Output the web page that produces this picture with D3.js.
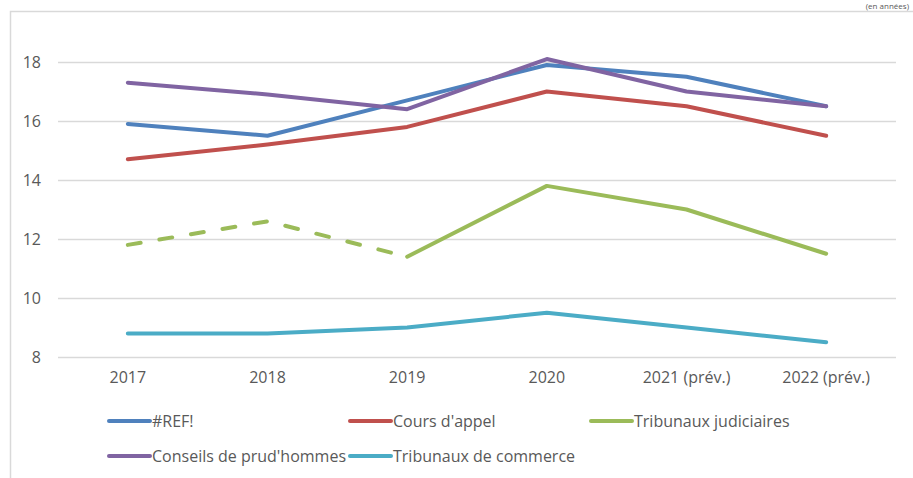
<!DOCTYPE html>
<html>
<head>
<meta charset="utf-8">
<script src="https://cdn.jsdelivr.net/npm/d3@7"></script>
<style>
  body { margin: 0; background: #fff; }
  svg text { font-family: "Open Sans", Lato, sans-serif; fill: #595959; }
</style>
</head>
<body>
<div id="d3"></div>
<script>
const years = ["2017", "2018", "2019", "2020", "2021 (prév.)", "2022 (prév.)"]
const yTicks = [8, 10, 12, 14, 16, 18]

const refValues = [15.9, 15.5, 16.7, 17.9, 17.5, 16.5]
const coursAppel = [14.7, 15.2, 15.8, 17.0, 16.5, 15.5]
const tribJudiciaires = [11.8, 12.6, 11.4, 13.8, 13.0, 11.5]
const prudhommes = [17.3, 16.9, 16.4, 18.1, 17.0, 16.5]
const tribCommerce = [8.8, 8.8, 9.0, 9.5, 9.0, 8.5]

const series = [
    {name: "#REF!", values: refValues, color: "#4F81BD"},
    {name: "Cours d'appel", values: coursAppel, color: "#C0504D"},
    {name: "Tribunaux judiciaires", values: tribJudiciaires, color: "#9BBB59", dashedUntil: 2},
    {name: "Conseils de prud'hommes", values: prudhommes, color: "#8064A2"},
    {name: "Tribunaux de commerce", values: tribCommerce, color: "#4BACC6"}
]

const W = 913, H = 478
const margin = {top: 62, left: 58, right: 15, bottom: 121}
const width = W - margin.left - margin.right
const height = H - margin.top - margin.bottom

const svg = d3.select("#d3").append("svg")
    .attr("width", W)
    .attr("height", H)

// chart frame (partly visible)
svg.append("path")
    .attr("d", "M10.5," + H + "V11.5H" + W)
    .attr("fill", "none")
    .attr("stroke", "#d9d9d9")
    .attr("stroke-width", 1.5)

svg.append("text")
    .attr("x", W - 4)
    .attr("y", 9)
    .attr("text-anchor", "end")
    .style("font-size", "8px")
    .text("(en années)")

const g = svg.append("g")
    .attr("transform", "translate(" + margin.left + "," + margin.top + ")")

const x = d3.scaleBand()
    .domain(years)
    .range([0, width - 2])
const y = d3.scaleLinear()
    .domain([8, 18])
    .range([height, 0])

// gridlines
g.selectAll(".grid")
    .data(yTicks)
    .enter()
    .append("line")
    .attr("x1", 0)
    .attr("x2", width - 2)
    .attr("y1", d => Math.round(y(d)) + 0.5)
    .attr("y2", d => Math.round(y(d)) + 0.5)
    .attr("stroke", "#d9d9d9")
    .attr("stroke-width", 1.3)

// y axis
const yAxis = g.append("g")
    .call(d3.axisLeft(y).tickValues(yTicks).tickSize(0).tickPadding(17))
yAxis.select(".domain").remove()
yAxis.selectAll("text")
    .style("font-size", "16px")
    .style("font-family", "'Open Sans', sans-serif")
    .attr("fill", "#595959")

// x axis
const xAxis = g.append("g")
    .attr("transform", "translate(0," + height + ")")
    .call(d3.axisBottom(x).tickSize(0).tickPadding(15))
xAxis.select(".domain").remove()
xAxis.selectAll("text")
    .style("font-size", "16px")
    .style("font-family", "'Open Sans', sans-serif")
    .attr("fill", "#595959")

const cx = (d, i) => x(years[i]) + x.bandwidth() / 2
const line = d3.line()
    .x(d => d.x)
    .y(d => d.y)

series.forEach(s => {
    const pts = s.values.map((v, i) => ({x: cx(v, i), y: y(v)}))
    const draw = (p, dashed) => g.append("path")
        .attr("d", line(p))
        .attr("fill", "none")
        .attr("stroke", s.color)
        .attr("stroke-width", 4)
        .attr("stroke-linecap", "round")
        .attr("stroke-linejoin", "round")
        .attr("stroke-dasharray", dashed ? "13,19" : null)
    if (s.dashedUntil) {
        draw(pts.slice(0, s.dashedUntil + 1), true)
        draw(pts.slice(s.dashedUntil), false)
    } else {
        draw(pts, false)
    }
})

// legend
const legendPos = [
    {x: 109, y: 421}, {x: 350, y: 421}, {x: 591, y: 421},
    {x: 109, y: 456}, {x: 350, y: 456}
]
const legend = svg.selectAll(".legend")
    .data(series)
    .enter()
    .append("g")
    .attr("transform", (d, i) => "translate(" + legendPos[i].x + "," + legendPos[i].y + ")")
legend.append("line")
    .attr("x1", 0)
    .attr("x2", 41)
    .attr("stroke", d => d.color)
    .attr("stroke-width", 4)
    .attr("stroke-linecap", "round")
legend.append("text")
    .attr("x", 43)
    .attr("dy", "0.35em")
    .style("font-size", "16px")
    .text(d => d.name)
</script>
</body>
</html>
